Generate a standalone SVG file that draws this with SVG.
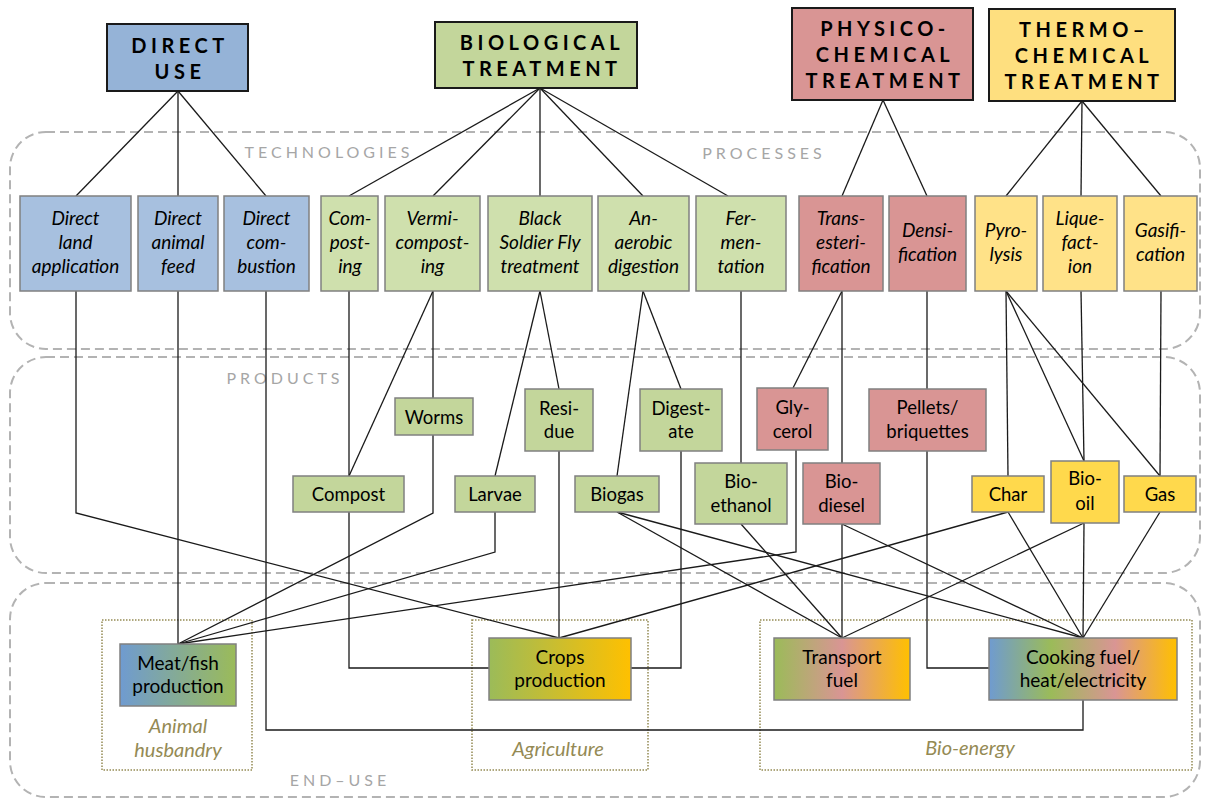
<svg xmlns="http://www.w3.org/2000/svg" width="1208" height="799" viewBox="0 0 1208 799">
<style>
text{font-family:Lato,"Open Sans","Liberation Sans",sans-serif;text-anchor:middle;fill:#000}
.hd{font-size:20px;font-weight:bold;letter-spacing:4.5px}
.tt{font-size:19px;font-style:italic}
.pt{font-size:18.5px}
.et{font-size:19px}
.gl{font-size:16px;letter-spacing:4px;fill:#a6a6a6}
.dl{font-size:20px;font-style:italic;fill:#948a54}
.hbox{stroke:#1a1a1a;stroke-width:2}
.box{stroke:#808080;stroke-width:1.5}
.region{fill:none;stroke:#b3b3b3;stroke-width:2;stroke-dasharray:9 5}
.dot{fill:none;stroke:#948a54;stroke-width:1.5;stroke-dasharray:1.5 1.5}
.blueH{fill:#95b3d7}.blueT{fill:#a7c0df}
.greenH{fill:#c3d69b}.greenT{fill:#cfe0ad}.greenP{fill:#c3d69b}
.pink{fill:#d99594}
.yelH{fill:#fedf7f}.yelT{fill:#ffe288}.yelP{fill:#ffd94c}
#connectors line,#connectors polyline{stroke:#1a1a1a;stroke-width:1.3;fill:none}
</style>
<defs>
<linearGradient id="gMeat" x1="0" x2="1" y1="0" y2="0"><stop offset="0" stop-color="#6f9bd0"/><stop offset="1" stop-color="#9bbb59"/></linearGradient>
<linearGradient id="gCrops" x1="0" x2="1" y1="0" y2="0"><stop offset="0" stop-color="#9bbb59"/><stop offset="1" stop-color="#ffc000"/></linearGradient>
<linearGradient id="gTrans" x1="0" x2="1" y1="0" y2="0"><stop offset="0" stop-color="#9bbb59"/><stop offset="0.5" stop-color="#d99594"/><stop offset="1" stop-color="#ffc000"/></linearGradient>
<linearGradient id="gCook" x1="0" x2="1" y1="0" y2="0"><stop offset="0" stop-color="#6f9bd0"/><stop offset="0.33" stop-color="#9bbb59"/><stop offset="0.67" stop-color="#d99594"/><stop offset="1" stop-color="#ffc000"/></linearGradient>
</defs>
<rect width="1208" height="799" fill="#fff"/>

<g id="regions">
<rect class="region" x="10" y="132" width="1190" height="217" rx="36"/>
<rect class="region" x="10" y="357" width="1190" height="216" rx="36"/>
<rect class="region" x="10" y="583" width="1190" height="214" rx="36"/>
<text class="gl" x="329" y="158">TECHNOLOGIES</text>
<text class="gl" x="764" y="159">PROCESSES</text>
<text class="gl" x="285" y="384">PRODUCTS</text>
<text class="gl" x="340" y="786">END–USE</text>
<rect class="dot" x="102" y="620" width="150" height="150"/>
<rect class="dot" x="472" y="620" width="176" height="150"/>
<rect class="dot" x="760" y="620" width="432" height="150"/>
<text class="dl" x="178" y="733">Animal</text>
<text class="dl" x="178" y="757">husbandry</text>
<text class="dl" x="558" y="756">Agriculture</text>
<text class="dl" x="970" y="755">Bio-energy</text>
</g>

<g id="connectors">
<line x1="178" y1="91" x2="76" y2="196"/>
<line x1="178" y1="91" x2="178" y2="196"/>
<line x1="178" y1="91" x2="266" y2="196"/>
<line x1="540" y1="88" x2="349" y2="196"/>
<line x1="540" y1="88" x2="433" y2="196"/>
<line x1="540" y1="88" x2="540" y2="196"/>
<line x1="540" y1="88" x2="643" y2="196"/>
<line x1="540" y1="88" x2="728" y2="196"/>
<line x1="883" y1="100" x2="842" y2="196"/>
<line x1="883" y1="100" x2="927" y2="196"/>
<line x1="1082" y1="101" x2="1006" y2="196"/>
<line x1="1082" y1="101" x2="1081" y2="196"/>
<line x1="1082" y1="101" x2="1161" y2="196"/>
<polyline points="76,291 76,513 559,638"/>
<line x1="178" y1="291" x2="178" y2="644"/>
<polyline points="266,291 266,730 1083,730 1083,700"/>
<line x1="349" y1="291" x2="349" y2="476"/>
<polyline points="349,512 349,668 489,668"/>
<line x1="433" y1="291" x2="349" y2="476"/>
<line x1="433" y1="291" x2="433" y2="398"/>
<polyline points="433,435 433,513 178,644"/>
<line x1="540" y1="291" x2="495" y2="476"/>
<line x1="540" y1="291" x2="559" y2="389"/>
<polyline points="495,512 495,552 178,644"/>
<line x1="559" y1="451" x2="559" y2="638"/>
<line x1="643" y1="291" x2="617" y2="476"/>
<line x1="643" y1="291" x2="681" y2="389"/>
<polyline points="681,451 681,668 631,668"/>
<line x1="741" y1="291" x2="741" y2="463"/>
<line x1="741" y1="524" x2="842" y2="638"/>
<line x1="617" y1="512" x2="842" y2="638"/>
<line x1="617" y1="512" x2="1083" y2="638"/>
<line x1="842" y1="291" x2="793" y2="388"/>
<polyline points="796,450 796,552 178,644"/>
<line x1="842" y1="291" x2="842" y2="463"/>
<line x1="842" y1="524" x2="842" y2="638"/>
<line x1="842" y1="524" x2="1083" y2="638"/>
<line x1="927" y1="291" x2="927" y2="389"/>
<polyline points="927,451 927,668 989,668"/>
<line x1="1006" y1="291" x2="1008" y2="476"/>
<line x1="1006" y1="291" x2="1084" y2="461"/>
<line x1="1006" y1="291" x2="1160" y2="476"/>
<line x1="1081" y1="291" x2="1084" y2="461"/>
<line x1="1161" y1="291" x2="1160" y2="476"/>
<line x1="1008" y1="512" x2="559" y2="638"/>
<line x1="1008" y1="512" x2="1083" y2="638"/>
<line x1="1084" y1="523" x2="842" y2="638"/>
<line x1="1084" y1="523" x2="1083" y2="638"/>
<line x1="1160" y1="512" x2="1083" y2="638"/>
</g>

<!-- headers -->
<g id="h-direct"><rect class="hbox blueH" x="107" y="24" width="141" height="67"/><text class="hd" x="180" y="53">DIRECT</text><text class="hd" x="180" y="79">USE</text></g>
<g id="h-bio"><rect class="hbox greenH" x="435" y="22" width="202" height="66"/><text class="hd" x="542" y="50">BIOLOGICAL</text><text class="hd" x="542" y="76">TREATMENT</text></g>
<g id="h-physico"><rect class="hbox pink" x="792" y="8" width="181" height="92"/><text class="hd" x="885" y="36">PHYSICO-</text><text class="hd" x="885" y="62">CHEMICAL</text><text class="hd" x="885" y="88">TREATMENT</text></g>
<g id="h-thermo"><rect class="hbox yelH" x="989" y="9" width="186" height="92"/><text class="hd" x="1084" y="37">THERMO–</text><text class="hd" x="1084" y="63">CHEMICAL</text><text class="hd" x="1084" y="89">TREATMENT</text></g>

<!-- technologies -->
<g id="t-land"><rect class="box blueT" x="20" y="196" width="111" height="95"/><text class="tt" x="75.5" y="225">Direct</text><text class="tt" x="75.5" y="249">land</text><text class="tt" x="75.5" y="273">application</text></g>
<g id="t-feed"><rect class="box blueT" x="138" y="196" width="80" height="95"/><text class="tt" x="178" y="225">Direct</text><text class="tt" x="178" y="249">animal</text><text class="tt" x="178" y="273">feed</text></g>
<g id="t-comb"><rect class="box blueT" x="224" y="196" width="85" height="95"/><text class="tt" x="266.5" y="225">Direct</text><text class="tt" x="266.5" y="249">com-</text><text class="tt" x="266.5" y="273">bustion</text></g>
<g id="t-compost"><rect class="box greenT" x="321" y="196" width="57" height="95"/><text class="tt" x="350" y="225">Com-</text><text class="tt" x="350" y="249">post-</text><text class="tt" x="350" y="273">ing</text></g>
<g id="t-vermi"><rect class="box greenT" x="385" y="196" width="95" height="95"/><text class="tt" x="432.5" y="225">Vermi-</text><text class="tt" x="432.5" y="249">compost-</text><text class="tt" x="432.5" y="273">ing</text></g>
<g id="t-bsf"><rect class="box greenT" x="488" y="196" width="104" height="95"/><text class="tt" x="540" y="225">Black</text><text class="tt" x="540" y="249">Soldier Fly</text><text class="tt" x="540" y="273">treatment</text></g>
<g id="t-ad"><rect class="box greenT" x="598" y="196" width="91" height="95"/><text class="tt" x="643.5" y="225">An-</text><text class="tt" x="643.5" y="249">aerobic</text><text class="tt" x="643.5" y="273">digestion</text></g>
<g id="t-ferm"><rect class="box greenT" x="696" y="196" width="90" height="95"/><text class="tt" x="741" y="225">Fer-</text><text class="tt" x="741" y="249">men-</text><text class="tt" x="741" y="273">tation</text></g>
<g id="t-trans"><rect class="box pink" x="799" y="196" width="84" height="95"/><text class="tt" x="841" y="225">Trans-</text><text class="tt" x="841" y="249">esteri-</text><text class="tt" x="841" y="273">fication</text></g>
<g id="t-densi"><rect class="box pink" x="889" y="196" width="77" height="95"/><text class="tt" x="927.5" y="237">Densi-</text><text class="tt" x="927.5" y="261">fication</text></g>
<g id="t-pyro"><rect class="box yelT" x="975" y="196" width="62" height="95"/><text class="tt" x="1006" y="237">Pyro-</text><text class="tt" x="1006" y="261">lysis</text></g>
<g id="t-lique"><rect class="box yelT" x="1043" y="196" width="74" height="95"/><text class="tt" x="1080" y="225">Lique-</text><text class="tt" x="1080" y="249">fact-</text><text class="tt" x="1080" y="273">ion</text></g>
<g id="t-gasif"><rect class="box yelT" x="1124" y="196" width="73" height="95"/><text class="tt" x="1160.5" y="237">Gasifi-</text><text class="tt" x="1160.5" y="261">cation</text></g>

<!-- products -->
<g id="p-worms"><rect class="box greenP" x="395" y="398" width="78" height="37"/><text class="pt" x="434" y="424">Worms</text></g>
<g id="p-residue"><rect class="box greenP" x="525" y="389" width="68" height="62"/><text class="pt" x="559" y="415">Resi-</text><text class="pt" x="559" y="438">due</text></g>
<g id="p-digestate"><rect class="box greenP" x="640" y="389" width="82" height="62"/><text class="pt" x="681" y="415">Digest-</text><text class="pt" x="681" y="438">ate</text></g>
<g id="p-glycerol"><rect class="box pink" x="757" y="388" width="71" height="62"/><text class="pt" x="792.5" y="414">Gly-</text><text class="pt" x="792.5" y="438">cerol</text></g>
<g id="p-pellets"><rect class="box pink" x="869" y="389" width="117" height="62"/><text class="pt" x="927.5" y="414">Pellets/</text><text class="pt" x="927.5" y="438">briquettes</text></g>
<g id="p-compost"><rect class="box greenP" x="293" y="476" width="111" height="36"/><text class="pt" x="348.5" y="501">Compost</text></g>
<g id="p-larvae"><rect class="box greenP" x="455" y="476" width="80" height="36"/><text class="pt" x="495" y="501">Larvae</text></g>
<g id="p-biogas"><rect class="box greenP" x="575" y="476" width="84" height="36"/><text class="pt" x="617" y="501">Biogas</text></g>
<g id="p-bioethanol"><rect class="box greenP" x="695" y="463" width="92" height="61"/><text class="pt" x="741" y="488">Bio-</text><text class="pt" x="741" y="512">ethanol</text></g>
<g id="p-biodiesel"><rect class="box pink" x="803" y="463" width="77" height="61"/><text class="pt" x="841.5" y="488">Bio-</text><text class="pt" x="841.5" y="512">diesel</text></g>
<g id="p-char"><rect class="box yelP" x="972" y="476" width="72" height="36"/><text class="pt" x="1008" y="501">Char</text></g>
<g id="p-biooil"><rect class="box yelP" x="1051" y="461" width="68" height="62"/><text class="pt" x="1085" y="485">Bio-</text><text class="pt" x="1085" y="510">oil</text></g>
<g id="p-gas"><rect class="box yelP" x="1124" y="476" width="72" height="36"/><text class="pt" x="1160" y="501">Gas</text></g>

<!-- end use -->
<g id="e-meat"><rect class="box" fill="url(#gMeat)" x="120" y="644" width="116" height="62"/><text class="et" x="178" y="670">Meat/fish</text><text class="et" x="178" y="693">production</text></g>
<g id="e-crops"><rect class="box" fill="url(#gCrops)" x="489" y="638" width="142" height="62"/><text class="et" x="560" y="664">Crops</text><text class="et" x="560" y="687">production</text></g>
<g id="e-transport"><rect class="box" fill="url(#gTrans)" x="774" y="638" width="136" height="62"/><text class="et" x="842" y="664">Transport</text><text class="et" x="842" y="687">fuel</text></g>
<g id="e-cooking"><rect class="box" fill="url(#gCook)" x="989" y="638" width="188" height="62"/><text class="et" x="1083" y="664">Cooking fuel/</text><text class="et" x="1083" y="687">heat/electricity</text></g>
</svg>
